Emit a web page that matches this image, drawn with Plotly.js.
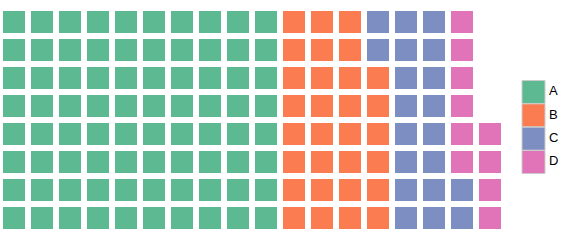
<!DOCTYPE html>
<html>
<head>
<meta charset="utf-8">
<script src="https://cdn.plot.ly/plotly-3.0.1.min.js"></script>
<style>html,body{margin:0;padding:0;background:#fff;}#chart{width:576px;height:240px;}</style>
</head>
<body>
<div id="chart"></div>
<script>
const categories = ["A", "B", "C", "D"];
const values = [80, 30, 20, 10];
const colors = ["#5cb992", "#fc7c52", "#7d8ec2", "#e173b9"];
const nRows = 8;

const traces = [];
let idx = 0;
categories.forEach((cat, k) => {
  const xs = [], ys = [];
  for (let i = 0; i < values[k]; i++, idx++) {
    xs.push(Math.floor(idx / nRows));
    ys.push(idx % nRows);
  }
  traces.push({
    type: "scatter", mode: "markers", name: cat, x: xs, y: ys,
    xaxis: "x", yaxis: "y", hoverinfo: "skip",
    marker: {symbol: "square", size: 22, color: colors[k], line: {width: 0}}
  });
});

traces.push({
  type: "scatter", mode: "markers+text", x: categories.map(() => 0), y: categories,
  text: categories, textposition: "middle right",
  textfont: {family: "Liberation Sans, Arial, sans-serif", size: 13, color: "#000"},
  xaxis: "x2", yaxis: "y2", hoverinfo: "skip", cliponaxis: false,
  marker: {symbol: "square", size: 23, color: colors, line: {width: 1, color: "#cccccc"}}
});

const nCols = Math.ceil(values.reduce((a, b) => a + b, 0) / nRows);
const W = 576, H = 240;
const layout = {
  width: W, height: H, showlegend: false,
  margin: {l: 0, r: 0, t: 0, b: 0},
  paper_bgcolor: "#fff", plot_bgcolor: "#fff",
  xaxis: {domain: [0, 504 / W], range: [-0.5, nCols - 0.5], visible: false, fixedrange: true},
  yaxis: {domain: [8 / H, 232 / H], range: [-0.5, nRows - 0.5], visible: false, fixedrange: true},
  xaxis2: {domain: [522 / W, 545 / W], range: [-0.5, 0.5], visible: false, anchor: "y2"},
  yaxis2: {domain: [66.3 / H, 159.7 / H], range: [3.5, -0.5], type: "category",
           categoryorder: "array", categoryarray: categories, visible: false, anchor: "x2"}
};
Plotly.newPlot("chart", traces, layout, {staticPlot: true, displayModeBar: false});
</script>
</body>
</html>
